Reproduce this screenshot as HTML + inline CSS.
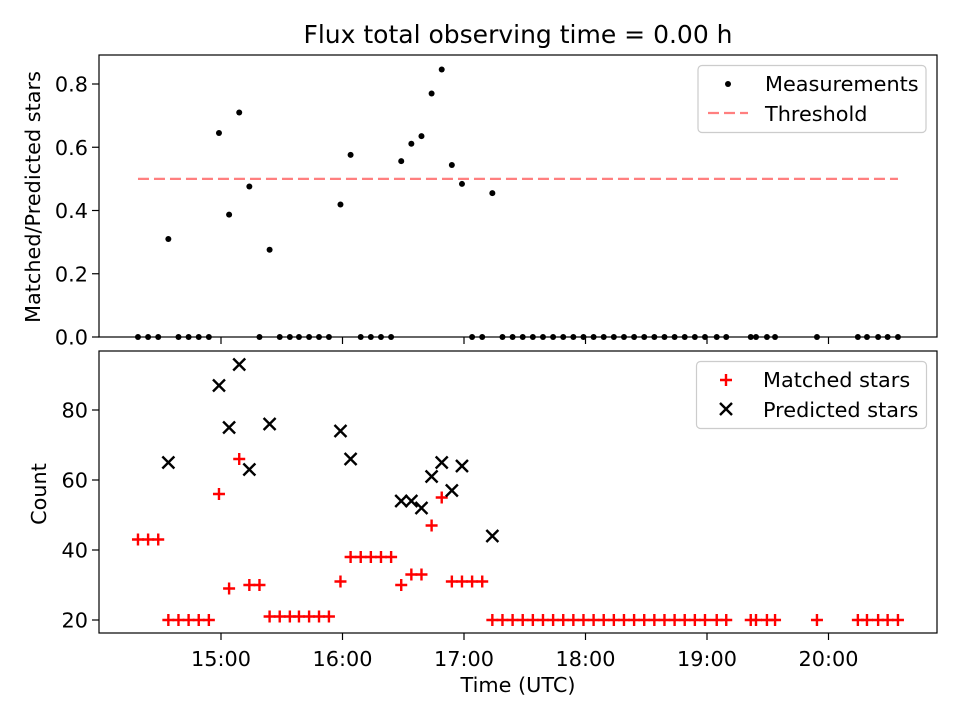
<!DOCTYPE html>
<html><head><meta charset="utf-8">
<style>
html,body{margin:0;padding:0;background:#fff;}
svg{display:block;font-family:"DejaVu Sans","Liberation Sans",sans-serif;}
</style></head>
<body>
<svg id="chart" width="960" height="720" viewBox="0 0 960 720" xmlns="http://www.w3.org/2000/svg">
<text x="518" y="43" font-size="25" text-anchor="middle">Flux total observing time = 0.00 h</text>
<g id="topg"></g>
<g id="botg"></g>
</svg>
<script>
// minutes since 14:00
const times = [19,24,29,34,39,44,49,54,59,64,69,74,79,84,89,94,98.5,103.5,108.4,113.3,119,124,129,134,139,144,149,154,159,164,169,174,179,184,189,
194,199,204,209,214,219,224,229,234,239,244,249,254,259,264,269,274,279,284,289,294,299,304.8,309.5,321.6,324.2,329.6,333.6,354.3,374.5,379,384.5,389.2,394.3];
const matched = [43,43,43,20,20,20,20,20,56,29,66,30,30,21,21,21,21,21,21,21,31,38,38,38,38,38,30,33,33,47,55,31,31,31,31,
20,20,20,20,20,20,20,20,20,20,20,20,20,20,20,20,20,20,20,20,20,20,20,20,20,20,20,20,20,20,20,20,20,20];
const predicted = [null,null,null,65,null,null,null,null,87,75,93,63,null,76,null,null,null,null,null,null,74,66,null,null,null,null,54,54,52,61,65,57,64,null,null,44];
const ratio = [0,0,0,0.31,0,0,0,0,0.645,0.387,0.71,0.476,0,0.276,0,0,0,0,0,0,0.419,0.576,0,0,0,0,0.556,0.611,0.635,0.77,0.846,0.544,0.484,0,0,0.455];
const threshold = 0.5;
const xTicks = [60,120,180,240,300,360];
const xTickLabels = ["15:00","16:00","17:00","18:00","19:00","20:00"];
const topYTicks = [0,0.2,0.4,0.6,0.8];
const botYTicks = [20,40,60,80];

const NS="http://www.w3.org/2000/svg";
const L=99,R=937,FS=20.8;
const xs = t => 221 + (t-60)*2.025;
const yTop = v => 337 - v*316.25;
const yBot = v => 620 - (v-20)*3.5;
function mk(tag,attrs,parent,text){const e=document.createElementNS(NS,tag);for(const k in attrs)e.setAttribute(k,attrs[k]);if(text!==undefined)e.textContent=text;parent.appendChild(e);return e;}
const gTop=document.getElementById('topg'), gBot=document.getElementById('botg');

let th=mk('line',{x1:xs(times[0]),x2:xs(times[times.length-1]),y1:yTop(threshold),y2:yTop(threshold),stroke:'#ff7f7f','stroke-width':2.2,'stroke-dasharray':'11,5'},gTop);


times.forEach((t,i)=>{const v=(i<ratio.length)?ratio[i]:0;
 const c=mk('circle',{cx:xs(t),cy:yTop(v),r:3,fill:'#000'},gTop);
 
 });
times.forEach((t,i)=>{const x=xs(t),y=yBot(matched[i]);
 const p=mk('path',{d:`M${x-6},${y}H${x+6}M${x},${y-6}V${y+6}`,stroke:'#f00','stroke-width':2.4},gBot);
 
 });
times.forEach((t,i)=>{const v=predicted[i];if(v==null)return;const x=xs(t),y=yBot(v);
 const p=mk('path',{d:`M${x-6},${y-6}L${x+6},${y+6}M${x-6},${y+6}L${x+6},${y-6}`,stroke:'#000','stroke-width':2.4},gBot);
 
 });

[[gTop,55,337],[gBot,351,633]].forEach(([g,t,b])=>{
 const r=mk('rect',{x:L,y:t,width:R-L,height:b-t,fill:'none',stroke:'#000','stroke-width':1.2},g);
 
 
 xTicks.forEach(v=>{const x=xs(v);mk('line',{x1:x,x2:x,y1:b,y2:b+7,stroke:'#000','stroke-width':1.2},g);});
});
xTicks.forEach((v,i)=>{const tx=mk('text',{x:xs(v),y:666,'font-size':FS,'text-anchor':'middle'},gBot,xTickLabels[i]);
 
 });
topYTicks.forEach(v=>{const y=yTop(v);mk('line',{x1:L-7,x2:L,y1:y,y2:y,stroke:'#000','stroke-width':1.2},gTop);
 const tx=mk('text',{x:L-11,y:y+7.5,'font-size':FS,'text-anchor':'end'},gTop,v.toFixed(1));
 
 });
botYTicks.forEach(v=>{const y=yBot(v);mk('line',{x1:L-7,x2:L,y1:y,y2:y,stroke:'#000','stroke-width':1.2},gBot);
 const tx=mk('text',{x:L-11,y:y+7.5,'font-size':FS,'text-anchor':'end'},gBot,String(v));
 
 });
</script>
<svg style="position:absolute;left:0;top:0" width="960" height="720">
<text transform="translate(40,197) rotate(-90)" font-size="20.8" text-anchor="middle" font-family="DejaVu Sans, Liberation Sans, sans-serif">Matched/Predicted stars</text>
<text transform="translate(46,494) rotate(-90)" font-size="20.8" text-anchor="middle" font-family="DejaVu Sans, Liberation Sans, sans-serif">Count</text>
<text x="518" y="692" font-size="20.8" text-anchor="middle" font-family="DejaVu Sans, Liberation Sans, sans-serif">Time (UTC)</text>
<g font-family="DejaVu Sans, Liberation Sans, sans-serif" font-size="20.8">
<rect x="698" y="65.5" width="228" height="67" rx="4" fill="#fff" stroke="#ccc" stroke-width="1.2"/>
<circle cx="728" cy="84" r="3" fill="#000"/>
<text x="765" y="91">Measurements</text>
<line x1="708" x2="748" y1="113" y2="113" stroke="#ff7f7f" stroke-width="2.2" stroke-dasharray="11,5"/>
<text x="765" y="121">Threshold</text>
</g>
<g font-family="DejaVu Sans, Liberation Sans, sans-serif" font-size="20.8">
<rect x="696.5" y="361.5" width="230" height="67" rx="4" fill="#fff" stroke="#ccc" stroke-width="1.2"/>
<path d="M720,380H732M726,374V386" stroke="#f00" stroke-width="2.4"/>
<text x="763" y="387">Matched stars</text>
<path d="M720,403L732,415M720,415L732,403" stroke="#000" stroke-width="2.4"/>
<text x="763" y="417">Predicted stars</text>
</g>
</svg>
</body></html>
